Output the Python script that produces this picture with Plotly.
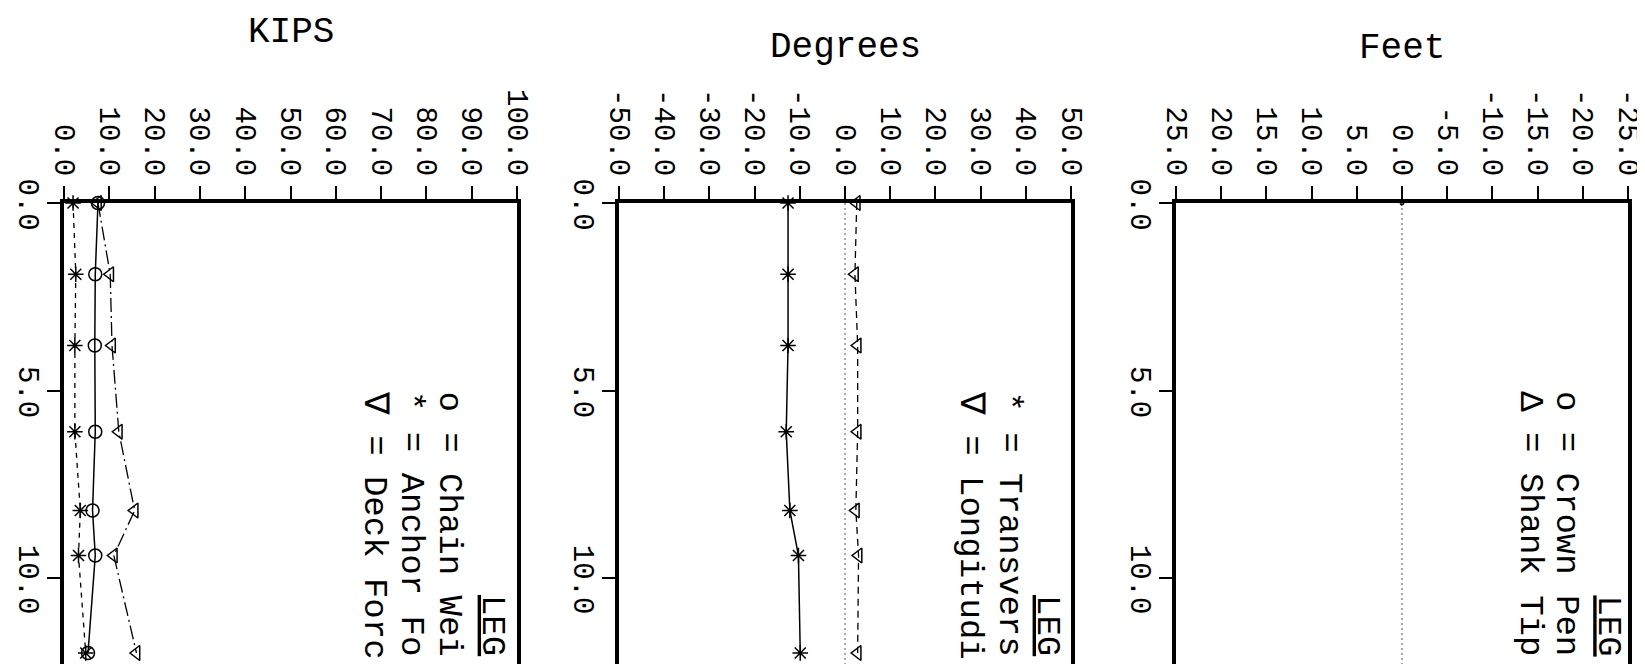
import plotly.graph_objects as go

FONT = "Liberation Mono"

# time runs down the page, values across
time = [0.0, 1.9, 3.8, 6.1, 8.2, 9.4, 12.0]

chain_weight = [7.5, 6.9, 6.8, 6.9, 6.3, 6.9, 5.3]
anchor_force = [2.0, 2.6, 2.4, 2.4, 3.6, 3.2, 4.8]
deck_force = [7.5, 10.2, 10.6, 12.1, 15.6, 11.0, 16.0]

transverse = [-12.6, -12.6, -12.6, -13.0, -12.2, -10.3, -9.9]
longitudinal = [2.6, 2.2, 2.8, 2.8, 2.4, 3.0, 2.8]

feet_time = [0.0]
crown_pen = [0.0]
shank_tip = [0.0]

zero_time = [0.0, 13.0]
zero_value = [0.0, 0.0]

kips_ticks = [0, 10, 20, 30, 40, 50, 60, 70, 80, 90, 100]
kips_labels = ["0.0", "10.0", "20.0", "30.0", "40.0", "50.0", "60.0", "70.0", "80.0", "90.0", "100.0"]
deg_ticks = [-50, -40, -30, -20, -10, 0, 10, 20, 30, 40, 50]
deg_labels = ["-50.0", "-40.0", "-30.0", "-20.0", "-10.0", "0.0", "10.0", "20.0", "30.0", "40.0", "50.0"]
feet_ticks = [25, 20, 15, 10, 5, 0, -5, -10, -15, -20, -25]
feet_labels = ["25.0", "20.0", "15.0", "10.0", "5.0", "0.0", "-5.0", "-10.0", "-15.0", "-20.0", "-25.0"]
time_ticks = [0, 5, 10]
time_labels = ["0.0", "5.0", "10.0"]

W, H = 1645, 664
TOP = 195          # pixel row of the value axis
T_MAX = (H - TOP) / 37.5
panels = [(56, 509), (611, 1063), (1168, 1620)]


def px(x):
    return x / W


def py(y):
    return 1 - y / H


fig = go.Figure()

mk = dict(size=13, line=dict(width=1.5, color="black"))
# KIPS
fig.add_trace(go.Scatter(x=chain_weight, y=time, mode="lines+markers", name="Chain Weight",
                         line=dict(color="black", width=1.5),
                         marker=dict(symbol="circle-open", color="black", **mk),
                         xaxis="x", yaxis="y", cliponaxis=False))
fig.add_trace(go.Scatter(x=anchor_force, y=time, mode="lines+markers", name="Anchor Force",
                         line=dict(color="black", width=1.3, dash="5px,5px"),
                         marker=dict(symbol="asterisk-open", color="black", **mk),
                         xaxis="x", yaxis="y", cliponaxis=False))
fig.add_trace(go.Scatter(x=deck_force, y=time, mode="lines+markers", name="Deck Force",
                         line=dict(color="black", width=1.3, dash="14px,4px,2px,4px"),
                         marker=dict(symbol="triangle-left-open", color="black", **mk),
                         xaxis="x", yaxis="y", cliponaxis=False))
# Degrees
fig.add_trace(go.Scatter(x=zero_value, y=zero_time, mode="lines", showlegend=False,
                         line=dict(color="#555", width=1, dash="2px,3px"),
                         xaxis="x2", yaxis="y2"))
fig.add_trace(go.Scatter(x=transverse, y=time, mode="lines+markers", name="Transverse",
                         line=dict(color="black", width=1.5),
                         marker=dict(symbol="asterisk-open", color="black", **mk),
                         xaxis="x2", yaxis="y2", cliponaxis=False))
fig.add_trace(go.Scatter(x=longitudinal, y=time, mode="lines+markers", name="Longitudinal",
                         line=dict(color="black", width=1.3, dash="7px,5px"),
                         marker=dict(symbol="triangle-left-open", color="black", **mk),
                         xaxis="x2", yaxis="y2", cliponaxis=False))
# Feet
fig.add_trace(go.Scatter(x=zero_value, y=zero_time, mode="lines", showlegend=False,
                         line=dict(color="#555", width=1, dash="2px,3px"),
                         xaxis="x3", yaxis="y3"))
fig.add_trace(go.Scatter(x=crown_pen, y=feet_time, mode="markers", name="Crown Penetration",
                         marker=dict(symbol="circle-open", color="black", size=4),
                         xaxis="x3", yaxis="y3", cliponaxis=False))
fig.add_trace(go.Scatter(x=shank_tip, y=feet_time, mode="markers", name="Shank Tip",
                         marker=dict(symbol="triangle-right-open", color="black", size=4),
                         xaxis="x3", yaxis="y3", cliponaxis=False))

tickfont = dict(family=FONT, size=29, color="black")
ydom = [0, py(TOP)]


def xaxis(dom, rng, vals, text, anchor):
    return dict(domain=[px(dom[0]), px(dom[1])], range=rng, anchor=anchor, side="top",
                showline=True, linewidth=3.5, linecolor="black", mirror=False,
                ticks="outside", ticklen=13, tickwidth=2, tickcolor="black",
                tickvals=vals, ticktext=text, tickangle=90, tickfont=tickfont,
                ticklabelstandoff=0, showgrid=False, zeroline=False, fixedrange=True,
                automargin=False)


def yaxis(anchor):
    return dict(domain=ydom, range=[T_MAX, 0], anchor=anchor,
                showline=True, linewidth=3.5, linecolor="black", mirror=True,
                ticks="outside", ticklen=13, tickwidth=2, tickcolor="black",
                tickvals=time_ticks, ticktext=time_labels, tickangle=90, tickfont=tickfont,
                ticklabelstandoff=-7, ticklabelshift=-6,
                showgrid=False, zeroline=False, fixedrange=True, automargin=False)


annotations = []
titles = [("KIPS", 24), ("Degrees", 40), ("Feet", 41)]
for (t, y), (a, b) in zip(titles, panels):
    annotations.append(dict(text=t, x=px((a + b) / 2), y=py(y), xref="paper", yref="paper",
                            showarrow=False, xanchor="center", yanchor="middle",
                            font=dict(family=FONT, size=36, color="black")))

# legend blocks, text as far as it shows before the page edge
legends = [
    ("x domain", 0.946, [(0.850, "o = Chain Wei"), (0.767, "* = Anchor Fo"), (0.686, "\u2207 = Deck Forc")]),
    ("x2 domain", 0.948, [(0.863, "* = Transvers"), (0.778, "\u2207 = Longitudi")]),
    ("x3 domain", 0.956, [(0.864, "o = Crown Pen"), (0.784, "\u0394 = Shank Tip")]),
]
legfont = dict(family=FONT, size=34, color="black")
for xref, xleg, rows in legends:
    annotations.append(dict(text="<u>LEG</u>", x=xleg, y=py(585), xref=xref, yref="paper",
                            showarrow=False, xanchor="center", yanchor="top", textangle=90,
                            font=legfont))
    for xr, txt in rows:
        annotations.append(dict(text=txt, x=xr, y=py(381), xref=xref, yref="paper",
                                showarrow=False, xanchor="center", yanchor="top", textangle=90,
                                font=legfont))

fig.update_layout(
    width=W, height=H,
    margin=dict(l=0, r=0, t=0, b=0, autoexpand=False),
    paper_bgcolor="white", plot_bgcolor="white",
    showlegend=False,
    xaxis=xaxis(panels[0], [0, 100], kips_ticks, kips_labels, "y"),
    xaxis2=xaxis(panels[1], [-50, 50], deg_ticks, deg_labels, "y2"),
    xaxis3=xaxis(panels[2], [25, -25], feet_ticks, feet_labels, "y3"),
    yaxis=yaxis("x"),
    yaxis2=yaxis("x2"),
    yaxis3=yaxis("x3"),
    annotations=annotations,
)

fig.write_html("out.html")
